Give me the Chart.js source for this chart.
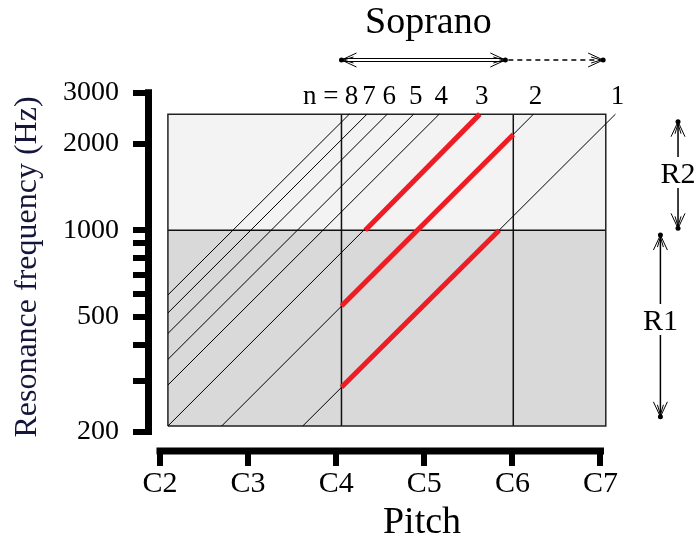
<!DOCTYPE html>
<html>
<head>
<meta charset="utf-8">
<script src="https://cdn.jsdelivr.net/npm/chart.js@4.4.1/dist/chart.umd.min.js"></script>
<style>
  html, body { margin: 0; padding: 0; background: #fff; }
  #wrap { width: 696px; height: 538px; position: relative; }
</style>
</head>
<body>
<div id="wrap"><canvas id="chart"></canvas></div>
<script>
// pitch axis: octave number of each C (2 = C2 ... 7 = C7)
const pitchTicks = [2, 3, 4, 5, 6, 7];
const pitchLabels = ["C2", "C3", "C4", "C5", "C6", "C7"];

// frequency axis (Hz), log
const freqTicks = [200, 300, 400, 500, 600, 700, 800, 900, 1000, 2000, 3000];
const freqLabels = [200, 500, 1000, 2000, 3000];

// shaded box
const boxPitch = [2.09, 7.06];
const boxFreq = [209, 1000, 2530];   // bottom, R1/R2 split, top
const dividerPitch = [4.06, 6.01];   // C4 and C6 lines

// harmonics n*f0, read at the edges of the box
const harmonics = [1, 2, 3, 4, 5, 6, 7, 8];
const harmStartPitch = [3.62, 2.70, 2.09, 2.09, 2.09, 2.09, 2.09, 2.09];
const harmStartFreq = [209, 209, 209, 290, 356, 438, 516, 596];
const harmEndPitch = [7.17, 6.24, 5.63, 5.17, 4.88, 4.58, 4.35, 4.15];
const harmEndFreq = [2530, 2530, 2530, 2530, 2530, 2530, 2530, 2530];

// red resonance tracks (on harmonics 1, 2, 3)
const trackStartPitch = [4.06, 4.06, 4.33];
const trackStartFreq = [285, 546, 1000];
const trackEndPitch = [5.85, 6.01, 5.63];
const trackEndFreq = [1000, 2150, 2530];

// soprano range and R1 / R2 ranges
const sopranoPitch = [4.06, 5.92];
const sopranoExtPitch = [5.92, 7.03];
const rNames = ["R1", "R2"];
const rPitch = [7.68, 7.88];
const rLowFreq = [225, 1015];
const rHighFreq = [962, 2381];
const rLabelFreq = [484, 1567];

const SERIF = "'Liberation Serif', 'Times New Roman', serif";
Chart.defaults.font.family = SERIF;
Chart.defaults.color = "#000";

function seg(x1, y1, x2, y2) {
  return [{ x: x1, y: y1 }, { x: x2, y: y2 }];
}

const datasets = [];

// box fills
datasets.push({
  data: seg(boxPitch[0], boxFreq[2], boxPitch[1], boxFreq[2]),
  fill: { value: boxFreq[1] },
  backgroundColor: "#f3f3f3",
  borderColor: "rgba(0,0,0,0)",
  order: 6
});
datasets.push({
  data: seg(boxPitch[0], boxFreq[1], boxPitch[1], boxFreq[1]),
  fill: { value: boxFreq[0] },
  backgroundColor: "#d9d9d9",
  borderColor: "rgba(0,0,0,0)",
  order: 6
});

// box outline
datasets.push({
  data: [
    { x: boxPitch[0], y: boxFreq[0] },
    { x: boxPitch[0], y: boxFreq[2] },
    { x: boxPitch[1], y: boxFreq[2] },
    { x: boxPitch[1], y: boxFreq[0] },
    { x: boxPitch[0], y: boxFreq[0] }
  ],
  borderColor: "#222",
  borderWidth: 1.5,
  order: 3
});
datasets.push({
  data: seg(boxPitch[0], boxFreq[1], boxPitch[1], boxFreq[1]),
  borderColor: "#111",
  borderWidth: 1.5,
  order: 3
});
dividerPitch.forEach(p => {
  datasets.push({
    data: seg(p, boxFreq[0], p, boxFreq[2]),
    borderColor: "#111",
    borderWidth: 1.5,
    order: 3
  });
});

// harmonic lines
harmonics.forEach((n, i) => {
  datasets.push({
    label: "n=" + n,
    data: seg(harmStartPitch[i], harmStartFreq[i], harmEndPitch[i], harmEndFreq[i]),
    borderColor: "#000",
    borderWidth: 1,
    order: 2
  });
});

// red tracks
trackStartPitch.forEach((p, i) => {
  datasets.push({
    data: seg(p, trackStartFreq[i], trackEndPitch[i], trackEndFreq[i]),
    borderColor: "#ee1c24",
    borderWidth: 5,
    order: 0
  });
});

function arrowHead(ctx, tx, ty, dx, dy) {
  const px = -dy, py = dx;
  ctx.beginPath();
  ctx.moveTo(tx - dx * 15 + px * 7, ty - dy * 15 + py * 7);
  ctx.lineTo(tx, ty);
  ctx.lineTo(tx - dx * 15 - px * 7, ty - dy * 15 - py * 7);
  ctx.moveTo(tx - dx * 12 + px * 3, ty - dy * 12 + py * 3);
  ctx.lineTo(tx - dx * 2, ty - dy * 2);
  ctx.lineTo(tx - dx * 12 - px * 3, ty - dy * 12 - py * 3);
  ctx.stroke();
  ctx.beginPath();
  ctx.arc(tx, ty, 2.5, 0, Math.PI * 2);
  ctx.fill();
}

const decorations = {
  id: "decorations",
  afterDraw(chart) {
    const { ctx, chartArea } = chart;
    const x = chart.scales.x, y = chart.scales.y;
    ctx.save();

    // range-frame axis lines
    ctx.strokeStyle = "#000";
    ctx.lineWidth = 7;
    ctx.lineCap = "square";
    ctx.beginPath();
    ctx.moveTo(chartArea.left + 0.5, y.getPixelForValue(freqTicks[0]));
    ctx.lineTo(chartArea.left + 0.5, y.getPixelForValue(freqTicks[freqTicks.length - 1]));
    ctx.moveTo(x.getPixelForValue(pitchTicks[0]), chartArea.bottom - 1);
    ctx.lineTo(x.getPixelForValue(pitchTicks[pitchTicks.length - 1]), chartArea.bottom - 1);
    ctx.stroke();
    ctx.lineCap = "butt";

    // n labels
    ctx.fillStyle = "#000";
    ctx.font = "27px " + SERIF;
    ctx.textAlign = "center";
    ctx.textBaseline = "middle";
    let firstX = null;
    harmonics.forEach((n, i) => {
      const lx = x.getPixelForValue(harmEndPitch[i]) + 2;
      const ly = y.getPixelForValue(harmEndFreq[i]) - 17;
      ctx.fillText(String(n), lx, ly);
      if (n === 8) firstX = lx;
    });
    ctx.textAlign = "right";
    ctx.fillText("n =", firstX - 13, y.getPixelForValue(harmEndFreq[7]) - 17);

    // soprano range
    const xa = x.getPixelForValue(sopranoPitch[0]);
    const xb = x.getPixelForValue(sopranoPitch[1]);
    const xc = x.getPixelForValue(sopranoExtPitch[1]);
    const ay = 60;
    ctx.font = "38px " + SERIF;
    ctx.textAlign = "center";
    ctx.textBaseline = "alphabetic";
    ctx.fillText("Soprano", (xa + xb) / 2 + 5, 33);

    ctx.lineWidth = 1.2;
    ctx.beginPath();
    ctx.moveTo(xa + 2, ay - 1.5); ctx.lineTo(xb - 2, ay - 1.5);
    ctx.moveTo(xa + 2, ay + 1.5); ctx.lineTo(xb - 2, ay + 1.5);
    ctx.stroke();
    ctx.lineWidth = 1;
    arrowHead(ctx, xa, ay, -1, 0);
    arrowHead(ctx, xb, ay, 1, 0);
    ctx.setLineDash([5, 4]);
    ctx.lineWidth = 1.5;
    ctx.beginPath();
    ctx.moveTo(xb + 3, ay); ctx.lineTo(xc - 3, ay);
    ctx.stroke();
    ctx.setLineDash([]);
    ctx.lineWidth = 1;
    arrowHead(ctx, xc, ay, 1, 0);

    // R1 / R2 ranges
    ctx.font = "30px " + SERIF;
    ctx.textBaseline = "middle";
    rNames.forEach((name, i) => {
      const rx = x.getPixelForValue(rPitch[i]);
      const top = y.getPixelForValue(rHighFreq[i]);
      const bot = y.getPixelForValue(rLowFreq[i]);
      const ly = y.getPixelForValue(rLabelFreq[i]);
      ctx.lineWidth = 1.5;
      ctx.beginPath();
      ctx.moveTo(rx, top + 2); ctx.lineTo(rx, ly - 17);
      ctx.moveTo(rx, ly + 14); ctx.lineTo(rx, bot - 2);
      ctx.stroke();
      ctx.lineWidth = 1;
      arrowHead(ctx, rx, top, 0, -1);
      arrowHead(ctx, rx, bot, 0, 1);
      ctx.fillText(name, rx, ly + 1);
    });

    ctx.restore();
  }
};

new Chart(document.getElementById("chart"), {
  type: "scatter",
  data: { datasets: datasets.map(d => Object.assign({ showLine: true, pointRadius: 0, tension: 0 }, d)) },
  options: {
    responsive: true,
    maintainAspectRatio: false,
    animation: false,
    layout: { padding: { top: 82, left: 0, right: 0, bottom: 0 } },
    plugins: {
      legend: { display: false },
      tooltip: { enabled: false }
    },
    scales: {
      x: {
        type: "linear",
        min: 1.864,
        max: 8.084,
        afterBuildTicks: s => { s.ticks = pitchTicks.map(v => ({ value: v })); },
        afterFit: s => { s.height = 86; s.paddingLeft = 0; s.paddingRight = 0; },
        border: { display: false },
        grid: { drawOnChartArea: false, drawTicks: true, tickLength: 14, lineWidth: 6, color: "#000" },
        ticks: {
          autoSkip: false,
          maxRotation: 0,
          padding: 0,
          font: { size: 30 },
          color: "#000",
          callback: v => pitchLabels[pitchTicks.indexOf(v)]
        },
        title: { display: true, text: "Pitch", font: { size: 38, lineHeight: 0.8 }, color: "#000", padding: 0 }
      },
      y: {
        type: "logarithmic",
        min: 169.8,
        max: 3271,
        afterBuildTicks: s => { s.ticks = freqTicks.map(v => ({ value: v })); },
        afterFit: s => { s.width = 148; s.paddingTop = 0; s.paddingBottom = 0; },
        border: { display: false },
        grid: { drawOnChartArea: false, drawTicks: true, tickLength: 15, lineWidth: 6, color: "#000" },
        ticks: {
          autoSkip: false,
          padding: 14,
          font: { size: 28 },
          color: "#000",
          callback: v => freqLabels.includes(v) ? String(v) : ""
        },
        title: {
          display: true,
          text: "Resonance frequency (Hz)",
          font: { size: 32, lineHeight: 1 },
          color: "#16163a",
          padding: { top: 12, bottom: 0 }
        }
      }
    }
  },
  plugins: [decorations]
});
</script>
</body>
</html>
